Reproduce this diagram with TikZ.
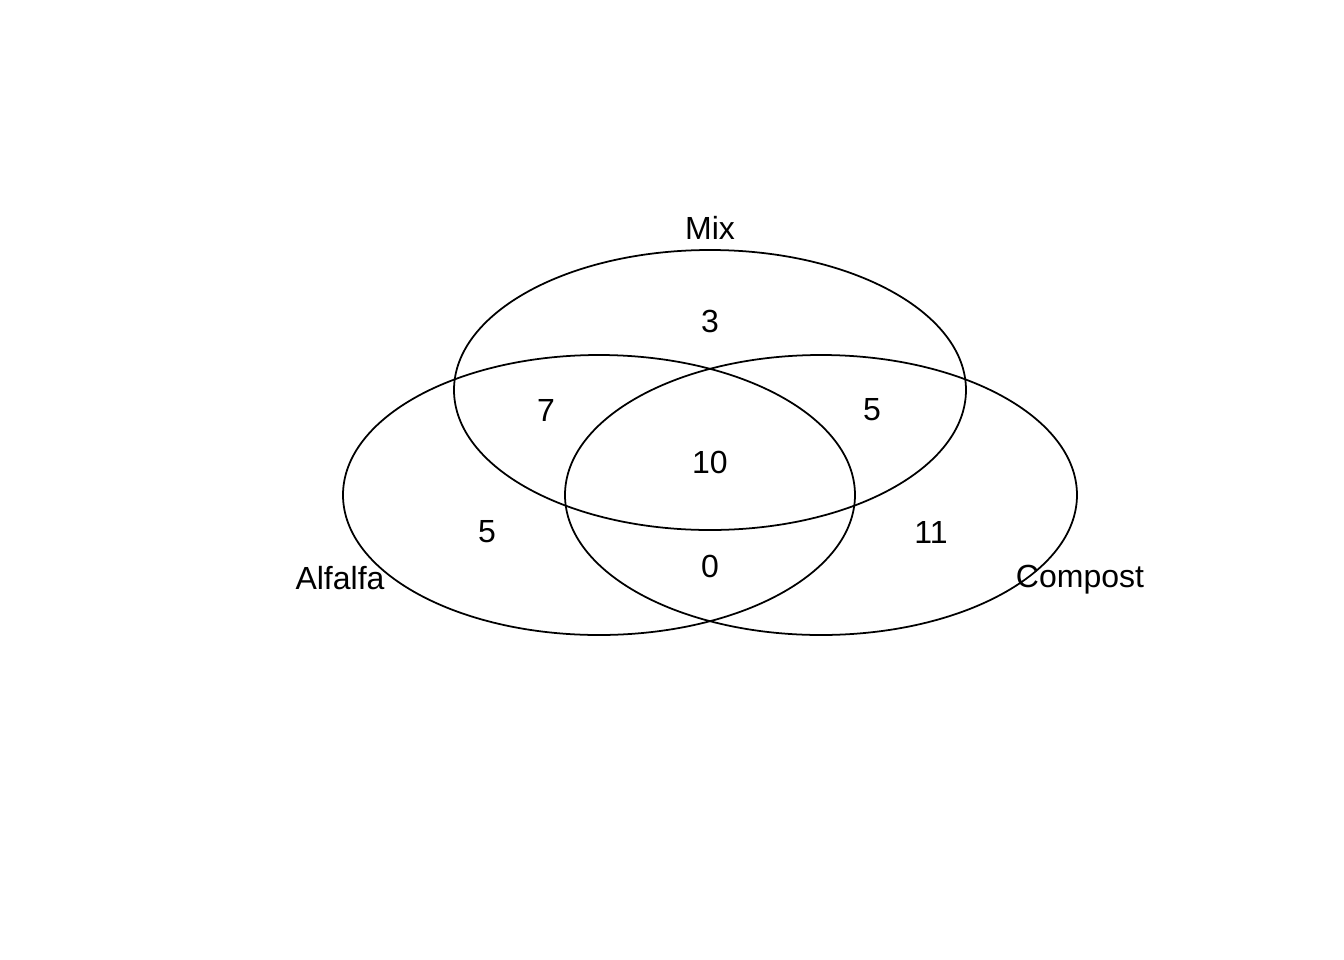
\documentclass[tikz,border=0pt]{standalone}
\usepackage{fontspec}
\setmainfont{Liberation Sans}
\usepackage{tikz}

\begin{document}
\begin{tikzpicture}[x=0.01cm, y=-0.01cm, line width=0.5pt, every node/.style={font=\fontsize{9.1}{11}\selectfont}]
            \useasboundingbox (0, 0) rectangle (1344, 960);
            \draw (710, 390) ellipse (256 and 140);
            \draw (599, 495) ellipse (256 and 140);
            \draw (821, 495) ellipse (256 and 140);
            \node (mix) at (710, 228) {Mix};
            \node (alfalfa) at (340, 578) {Alfalfa};
            \node (compost) at (1080, 580) {Compost};
            \node (onlym) at (710, 321) {3};
            \node (am) at (546, 410) {7};
            \node (mc) at (872, 410) {5};
            \node (amc) at (710, 462) {10};
            \node (onlya) at (487, 532) {5};
            \node (onlyc) at (931, 532) {11};
            \node (ac) at (710, 566) {0};
        \end{tikzpicture}
\end{document}
